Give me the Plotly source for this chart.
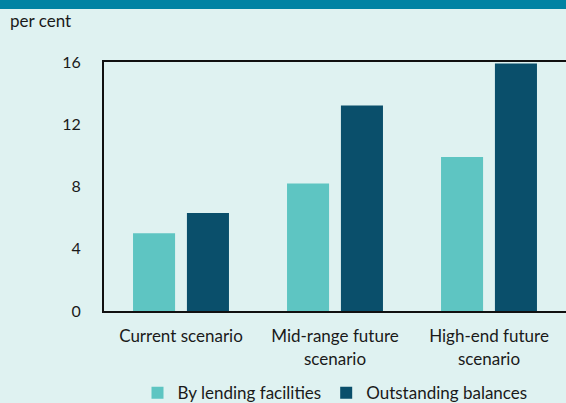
import plotly.graph_objects as go

categories = ["Current scenario", "Mid-range future<br>scenario", "High-end future<br>scenario"]
lending = [5.0, 8.2, 9.9]
outstanding = [6.3, 13.2, 15.9]
y_ticks = [0, 4, 8, 12, 16]

W, H = 566, 403
L, R, T, B = 104, 0, 62, 92
ph = H - T - B
pw = W - L - R

fig = go.Figure()
fig.add_trace(go.Bar(x=categories, y=lending, name="By lending facilities",
                     marker=dict(color="#5EC5C2", line=dict(width=0))))
fig.add_trace(go.Bar(x=categories, y=outstanding, name="Outstanding balances",
                     marker=dict(color="#0A4F6B", line=dict(width=0))))

bg = "#DFF2F1"
fig.update_layout(
    width=W, height=H,
    margin=dict(l=L, r=R, t=T, b=B, autoexpand=False),
    paper_bgcolor=bg, plot_bgcolor=bg,
    font=dict(family="Lato", size=16, color="#1a1a1a"),
    barmode="group", bargap=0.30, bargroupgap=0.22,
    showlegend=True,
    legend=dict(orientation="h", x=0.5, xanchor="center", y=-0.33, yanchor="middle",
                font=dict(size=17), itemwidth=30, traceorder="normal",
                bgcolor="rgba(0,0,0,0)"),
    xaxis=dict(showline=True, mirror=True, linecolor="#111111", linewidth=2,
               ticks="", showgrid=False, tickfont=dict(size=17), automargin=False,
               ticklabelstandoff=9),
    yaxis=dict(range=[0, 16], tickvals=y_ticks, showline=True, mirror=False,
               linecolor="#111111", linewidth=2, showgrid=False, ticks="",
               ticklabelstandoff=18, tickfont=dict(size=16), zeroline=False,
               automargin=False),
    shapes=[dict(type="rect", xref="paper", yref="paper",
                 x0=-L / pw - 0.01, x1=1.01,
                 y0=1 + (T - 9) / ph, y1=1 + (T + 2) / ph,
                 fillcolor="#0083A3", line=dict(width=0), layer="above")],
    annotations=[dict(text="per cent", xref="paper", yref="paper",
                      x=-(L - 8) / pw, xanchor="left",
                      y=1 + (T - 20) / ph, yanchor="middle",
                      showarrow=False, font=dict(size=17))],
)

fig.write_html("out.html", config={"displayModeBar": False})
with open("out.html", encoding="utf-8") as f:
    html = f.read()
html = html.replace("<body>", '<body style="margin:0;padding:0;overflow:hidden">', 1)
with open("out.html", "w", encoding="utf-8") as f:
    f.write(html)
